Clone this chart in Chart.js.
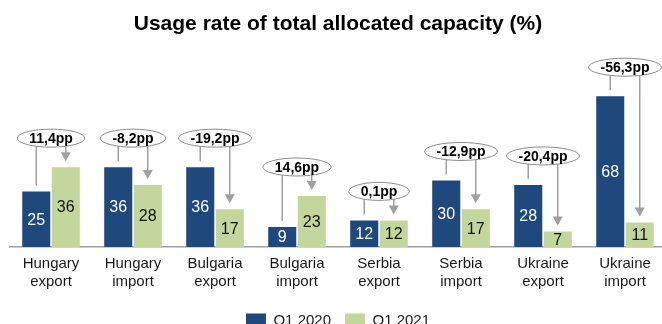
<!DOCTYPE html>
<html>
<head>
<meta charset="utf-8">
<script src="https://cdn.jsdelivr.net/npm/chart.js@4.4.1/dist/chart.umd.min.js"></script>
<style>
  html, body { margin: 0; padding: 0; background: #fff; overflow: hidden; }
  #wrap { width: 666px; height: 338px; position: relative; }
</style>
</head>
<body>
<div id="wrap"><canvas id="usage-chart"></canvas></div>
<script>
/* Usage rate of total allocated capacity — Q1 2020 vs Q1 2021 */

const categories = [
    ['Hungary', 'export'], ['Hungary', 'import'],
    ['Bulgaria', 'export'], ['Bulgaria', 'import'],
    ['Serbia', 'export'], ['Serbia', 'import'],
    ['Ukraine', 'export'], ['Ukraine', 'import']
];
const q1_2020 = [25, 36, 36, 9, 12, 30, 28, 68];
const q1_2021 = [36, 28, 17, 23, 12, 17, 7, 11];
const changeLabels = ['11,4pp', '-8,2pp', '-19,2pp', '14,6pp', '0,1pp', '-12,9pp', '-20,4pp', '-56,3pp'];

const NAVY = '#1F497D';
const GREEN = '#C3D69B';
const GREY = '#A0A0A0';
const FONT = "'Liberation Sans', Arial, sans-serif";

// values inside the bars + the "pp" callouts with arrows
const calloutPlugin = {
    id: 'callouts',
    afterDatasetsDraw(chart) {
        const c = chart.ctx;
        const m0 = chart.getDatasetMeta(0).data;
        const m1 = chart.getDatasetMeta(1).data;

        c.save();
        // value labels
        c.textAlign = 'center';
        c.textBaseline = 'middle';
        c.font = '16px ' + FONT;
        m0.forEach((b, i) => {
            c.fillStyle = '#FFFFFF';
            c.fillText(q1_2020[i], b.x, (b.y + b.base) / 2 + 1);
        });
        m1.forEach((b, i) => {
            c.fillStyle = '#111111';
            c.fillText(q1_2021[i], b.x, (b.y + b.base) / 2 + 1);
        });

        // callouts
        c.font = 'bold 14px ' + FONT;
        m0.forEach((b0, i) => {
            const b1 = m1[i];
            const cx = (b0.x + b1.x) / 2;
            const cy = Math.min(b0.y, b1.y) - 29;
            const rx = c.measureText(changeLabels[i]).width / 2 + 12;
            const ry = 9;

            c.strokeStyle = GREY;
            c.fillStyle = GREY;
            c.lineWidth = 1.5;

            // line from first bar up to the bubble
            c.beginPath();
            c.moveTo(b0.x, b0.y - 6);
            c.lineTo(b0.x, cy);
            c.stroke();

            // arrow down to second bar
            const tip = b1.y - 6;
            c.beginPath();
            c.moveTo(b1.x, cy);
            c.lineTo(b1.x, tip - 8);
            c.stroke();
            c.beginPath();
            c.moveTo(b1.x - 5, tip - 9);
            c.lineTo(b1.x + 5, tip - 9);
            c.lineTo(b1.x, tip);
            c.closePath();
            c.fill();

            // bubble
            c.beginPath();
            c.ellipse(cx, cy, rx, ry, 0, 0, Math.PI * 2);
            c.fillStyle = '#FFFFFF';
            c.fill();
            c.lineWidth = 1;
            c.strokeStyle = '#8C8C8C';
            c.stroke();

            c.fillStyle = '#000000';
            c.fillText(changeLabels[i], cx, cy + 1);
        });
        c.restore();
    }
};

new Chart(document.getElementById('usage-chart'), {
    type: 'bar',
    data: {
        labels: categories,
        datasets: [
            {
                label: 'Q1 2020',
                data: q1_2020,
                backgroundColor: NAVY,
                categoryPercentage: 0.72,
                barPercentage: 0.95
            },
            {
                label: 'Q1 2021',
                data: q1_2021,
                backgroundColor: GREEN,
                categoryPercentage: 0.72,
                barPercentage: 0.95
            }
        ]
    },
    options: {
        responsive: true,
        maintainAspectRatio: false,
        animation: false,
        layout: { padding: { left: 10, right: 0, top: 0, bottom: 0 } },
        scales: {
            x: {
                grid: { display: false, drawTicks: false },
                border: { display: true, color: GREY, width: 1.5 },
                ticks: {
                    color: '#1A1A1A',
                    font: { family: FONT, size: 15, lineHeight: 1.2 },
                    padding: 8,
                    maxRotation: 0
                }
            },
            y: {
                display: false,
                min: 0,
                max: 91
            }
        },
        plugins: {
            title: {
                display: true,
                text: 'Usage rate of total allocated capacity (%)',
                color: '#000000',
                font: { family: FONT, size: 21, weight: 'bold' },
                padding: { top: 12, bottom: 8 }
            },
            legend: {
                position: 'bottom',
                labels: {
                    color: '#1A1A1A',
                    font: { family: FONT, size: 15 },
                    boxWidth: 20,
                    boxHeight: 14,
                    padding: 14
                }
            },
            tooltip: { enabled: false }
        }
    },
    plugins: [calloutPlugin]
});
</script>
</body>
</html>
